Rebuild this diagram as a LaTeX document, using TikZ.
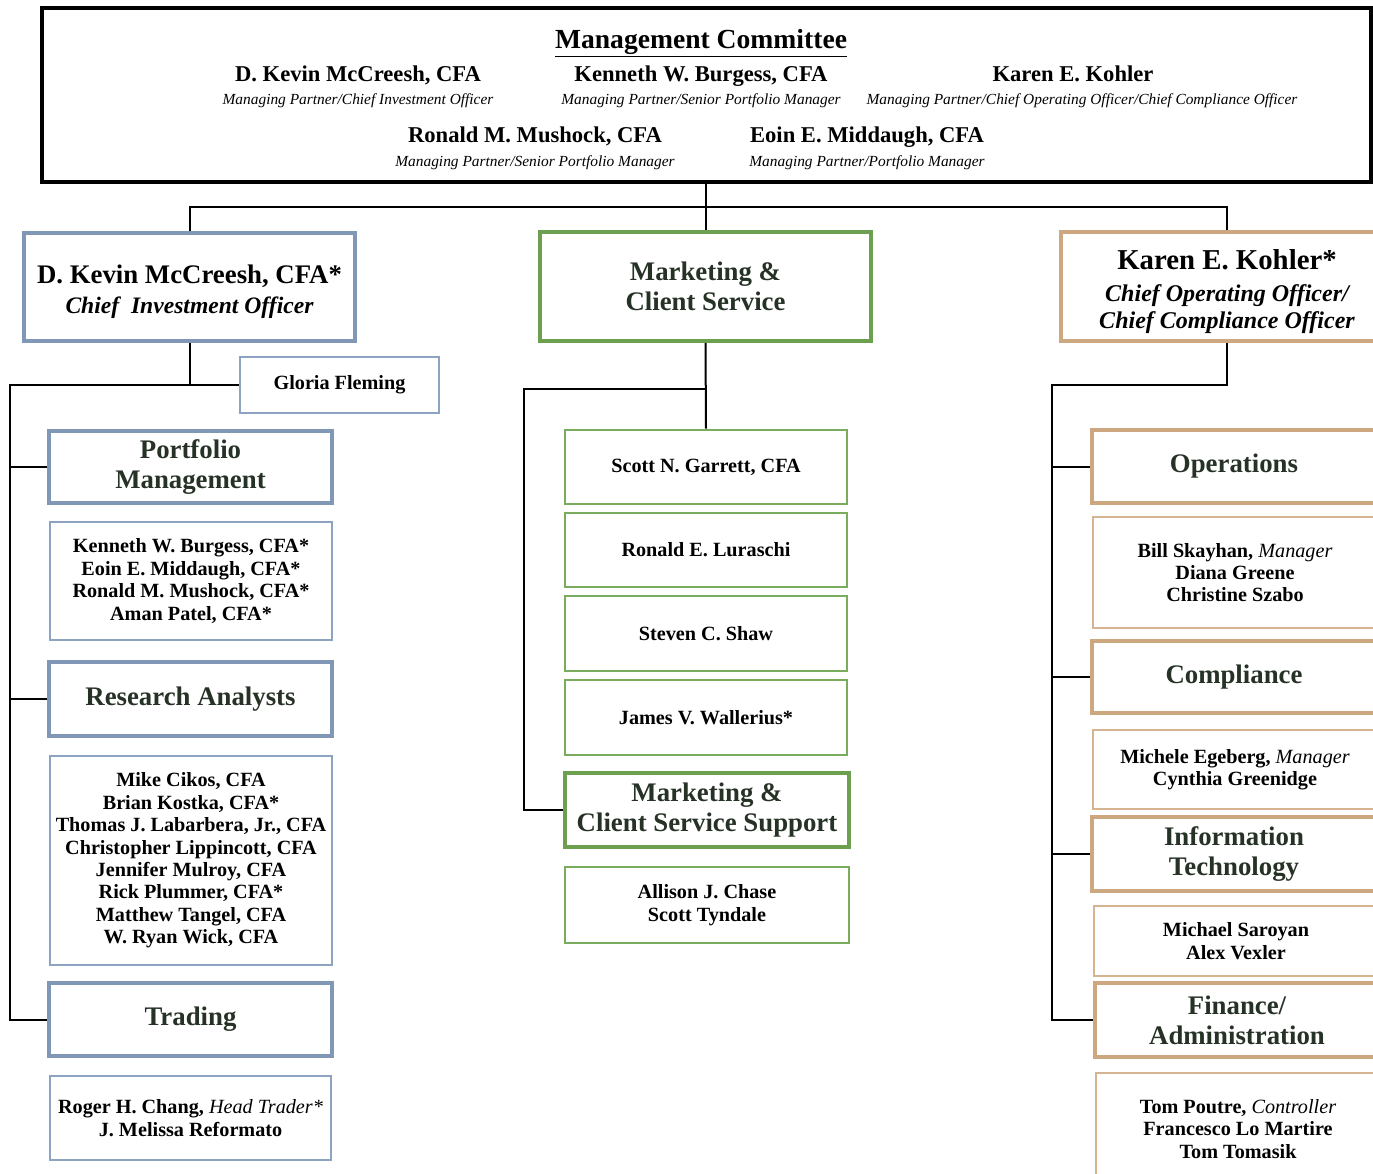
\documentclass[tikz,border=0pt]{standalone}
\usepackage{fontspec}
\setmainfont{Liberation Serif}
\usetikzlibrary{calc}

\definecolor{slate}{RGB}{128,152,182}
\definecolor{slatelt}{RGB}{140,164,194}
\definecolor{leaf}{RGB}{108,160,78}
\definecolor{leaflt}{RGB}{122,172,94}
\definecolor{sand}{RGB}{205,167,127}
\definecolor{sandlt}{RGB}{214,180,145}
\definecolor{headtext}{RGB}{38,50,38}

\newcommand\hdfont{\bfseries\fontsize{13.4}{15}\selectfont}
\newcommand\nmfont{\bfseries\fontsize{10.1}{11.2}\selectfont}
\newcommand\cmname{\bfseries\fontsize{11.3}{13}\selectfont}
\newcommand\cmrole{\itshape\fontsize{7.7}{9}\selectfont}
\newcommand\leadrole{\bfseries\itshape\fontsize{12}{13.5}\selectfont}
\newcommand\soft[1]{{\normalfont\itshape #1}}

\tikzset{
  conn/.style={draw=black, line width=1pt},
  base box/.style={rectangle, fill=white, inner sep=0pt, align=center},
  headbox/.style={base box, line width=2pt, text=headtext, font=\hdfont},
  namebox/.style={base box, line width=1.3pt, text=black, font=\nmfont},
}

\begin{document}
\begin{tikzpicture}[x=0.5pt, y=-0.5pt]
\useasboundingbox (0,0) rectangle (1373,1174);
\clip (0,0) rectangle (1373,1174);

% ---------- management committee ----------
\node[base box, draw=black, line width=2pt, minimum width=664.5pt, minimum height=87pt] (mc) at (706.5,95) {};
\node[anchor=base, font=\bfseries\fontsize{13.8}{16}\selectfont] (mctitle) at (701,48) {\underline{Management Committee}};
\node[anchor=base, font=\cmname] (c1) at (358,81) {D. Kevin McCreesh, CFA};
\node[anchor=base, font=\cmrole] (c1r) at (358,104) {Managing Partner/Chief Investment Officer};
\node[anchor=base, font=\cmname] (c2) at (701,81) {Kenneth W. Burgess, CFA};
\node[anchor=base, font=\cmrole] (c2r) at (701,104) {Managing Partner/Senior Portfolio Manager};
\node[anchor=base, font=\cmname] (c3) at (1073,81) {Karen E. Kohler};
\node[anchor=base, font=\cmrole] (c3r) at (1082,104) {Managing Partner/Chief Operating Officer/Chief Compliance Officer};
\node[anchor=base, font=\cmname] (c4) at (535,142) {Ronald M. Mushock, CFA};
\node[anchor=base, font=\cmrole] (c4r) at (535,166) {Managing Partner/Senior Portfolio Manager};
\node[anchor=base, font=\cmname] (c5) at (867,142) {Eoin E. Middaugh, CFA};
\node[anchor=base, font=\cmrole] (c5r) at (867,166) {Managing Partner/Portfolio Manager};

% ---------- left column ----------
\node[base box, draw=slate, line width=2pt, minimum width=165.5pt, minimum height=54pt,
      font=\bfseries\fontsize{13.4}{15}\selectfont] (mcc) at (189.5,287)
  {\rule{0pt}{14pt}D. Kevin McCreesh, CFA*\\
   \bfseries\itshape\fontsize{11.8}{14}\selectfont Chief\ \ Investment Officer};
\node[namebox, draw=slatelt, minimum width=99.5pt, minimum height=28pt] (gloria) at (339.5,385) {Gloria Fleming};
\node[headbox, draw=slate, minimum width=141.5pt, minimum height=36pt] (pm) at (190.5,467) {Portfolio\\Management};
\node[namebox, draw=slatelt, minimum width=141pt, minimum height=59pt] (pmlist) at (191,581)
  {Kenneth W. Burgess, CFA*\\Eoin E. Middaugh, CFA*\\Ronald M. Mushock, CFA*\\Aman Patel, CFA*};
\node[headbox, draw=slate, minimum width=141.5pt, minimum height=37pt] (ra) at (190.5,699) {Research Analysts};
\node[namebox, draw=slatelt, minimum width=141pt, minimum height=104.5pt] (ralist) at (191,860.5)
  {Mike Cikos, CFA\\Brian Kostka, CFA*\\Thomas J. Labarbera, Jr., CFA\\Christopher Lippincott, CFA\\Jennifer Mulroy, CFA\\Rick Plummer, CFA*\\Matthew Tangel, CFA\\W. Ryan Wick, CFA};
\node[headbox, draw=slate, minimum width=141.5pt, minimum height=36.5pt] (tr) at (190.5,1019.5) {Trading};
\node[namebox, draw=slatelt, minimum width=140.5pt, minimum height=42pt] (trlist) at (190.5,1118)
  {Roger H. Chang, \soft{Head Trader*}\\J. Melissa Reformato};

% ---------- middle column ----------
\node[headbox, draw=leaf, minimum width=165.5pt, minimum height=54.5pt] (mcs) at (705.5,286.5) {Marketing \&\\Client Service};
\node[namebox, draw=leaflt, minimum width=141pt, minimum height=37pt] (scott) at (706,467) {Scott N. Garrett, CFA};
\node[namebox, draw=leaflt, minimum width=141pt, minimum height=37pt] (lur) at (706,550) {Ronald E. Luraschi};
\node[namebox, draw=leaflt, minimum width=141pt, minimum height=37.5pt] (shaw) at (706,633.5) {Steven C. Shaw};
\node[namebox, draw=leaflt, minimum width=141pt, minimum height=37.5pt] (wal) at (706,717.5) {James V. Wallerius*};
\node[headbox, draw=leaf, minimum width=142pt, minimum height=37pt] (mcss) at (707,810) {Marketing \&\\Client Service Support};
\node[namebox, draw=leaflt, minimum width=142pt, minimum height=38pt] (chase) at (707,905) {Allison J. Chase\\Scott Tyndale};

% ---------- right column ----------
\node[base box, draw=sand, line width=2pt, minimum width=166pt, minimum height=54.5pt,
      font=\bfseries\fontsize{14.4}{13.5}\selectfont] (kohler) at (1227,286.5)
  {\rule{0pt}{15pt}Karen E. Kohler*\\[2.5pt]
   \leadrole Chief Operating Officer/\\
   \leadrole Chief Compliance Officer};
\node[headbox, draw=sand, minimum width=142pt, minimum height=36.5pt] (ops) at (1234,466.5) {Operations};
\node[namebox, draw=sandlt, minimum width=142pt, minimum height=55.5pt] (bill) at (1235,572.5)
  {Bill Skayhan, \soft{Manager}\\Diana Greene\\Christine Szabo};
\node[headbox, draw=sand, minimum width=142pt, minimum height=36pt] (comp) at (1234,677) {Compliance};
\node[namebox, draw=sandlt, minimum width=142pt, minimum height=39.5pt] (mich) at (1235,769.5)
  {Michele Egeberg, \soft{Manager}\\Cynthia Greenidge};
\node[headbox, draw=sand, minimum width=142pt, minimum height=37pt] (it) at (1234,854) {Information\\Technology};
\node[namebox, draw=sandlt, minimum width=142pt, minimum height=35pt] (saro) at (1236,941) {Michael Saroyan\\Alex Vexler};
\node[headbox, draw=sand, minimum width=142pt, minimum height=37pt] (fin) at (1237,1020) {Finance/\\Administration};
\node[namebox, draw=sandlt, minimum width=142pt, minimum height=56pt] (tom) at (1238,1129)
  {Tom Poutre, \soft{Controller}\\Francesco Lo Martire\\Tom Tomasik};

% ---------- connectors ----------
\coordinate (bar) at (706,207);
\coordinate (lspine) at (10,385);
\coordinate (mspine) at (524,389);
\coordinate (rspine) at (1052,385);

\draw[conn] (mcs.north |- mc.south) -- (mcs.north);
\draw[conn] (mcc.north) -- (mcc.north |- bar) -- (kohler.north |- bar) -- (kohler.north);

\draw[conn] (mcc.south) -- (mcc.south |- lspine);
\draw[conn] (gloria.west) -- (lspine) |- (tr.west);
\draw[conn] (lspine |- pm.west) -- (pm.west);
\draw[conn] (lspine |- ra.west) -- (ra.west);

\draw[conn] (mcs.south) -- (scott.north);
\draw[conn] (mcs.south |- mspine) -- (mspine) |- (mcss.west);

\draw[conn] (kohler.south) |- (rspine) |- (fin.west);
\draw[conn] (rspine |- ops.west) -- (ops.west);
\draw[conn] (rspine |- comp.west) -- (comp.west);
\draw[conn] (rspine |- it.west) -- (it.west);
\end{tikzpicture}
\end{document}
